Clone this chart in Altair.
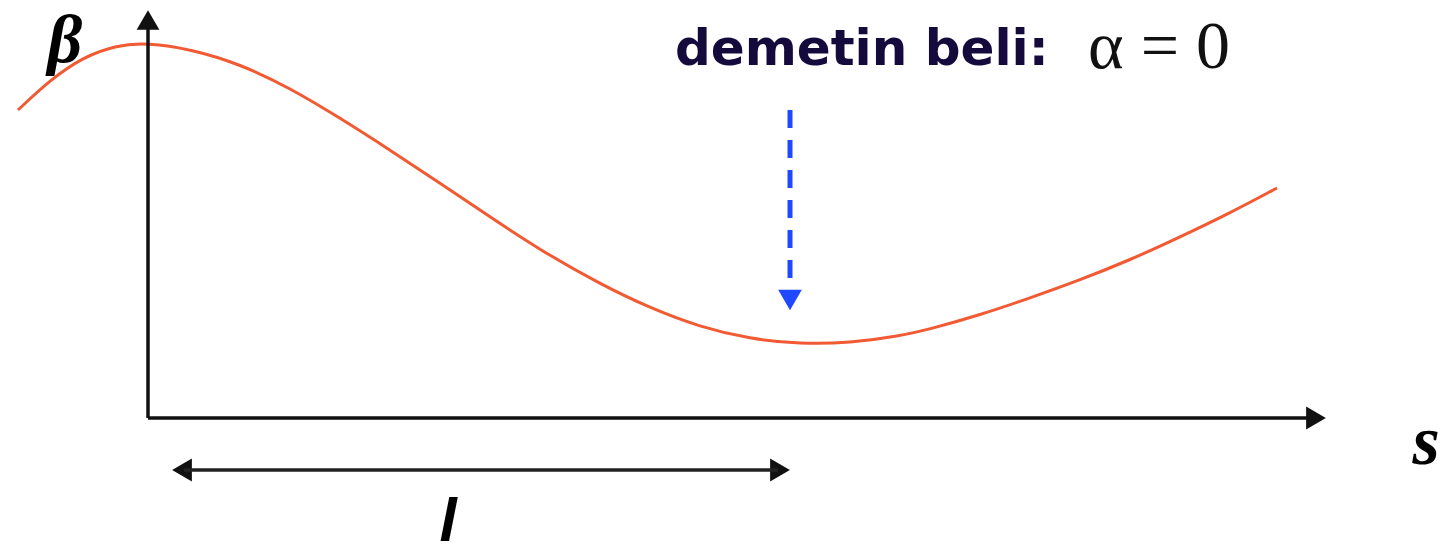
import altair as alt
import pandas as pd

# Beta function along the beam line (s measured from the vertical axis)
curve_s = [-130, -98, -65, -31, -1, 42, 92, 142, 192, 242, 292, 342, 392, 452,
           502, 552, 602, 652, 702, 752, 782, 832, 882, 932, 982, 1032, 1082, 1129]
curve_beta = [308, 338, 361, 373, 375, 369, 354, 330, 300, 268, 235, 201, 168, 134,
              110, 91, 79, 74, 75, 82, 89, 103, 120, 138, 158, 181, 205, 230]

# Axis extents
s_axis_end = 1160
beta_axis_end = 390

# Distance l to the waist, and the waist position
waist_s = 642
l_start = 24
l_row = -52

X_DOMAIN = [-148, 1298]
Y_DOMAIN = [-136, 418]

xs = alt.Scale(domain=X_DOMAIN, nice=False, zero=False)
ys = alt.Scale(domain=Y_DOMAIN, nice=False, zero=False)


def X(field="s"):
    return alt.X(field, type="quantitative", scale=xs, axis=None)


def Y(field="b"):
    return alt.Y(field, type="quantitative", scale=ys, axis=None)


curve = alt.Chart(pd.DataFrame({"s": curve_s, "b": curve_beta})).mark_line(
    color="#f15a32", strokeWidth=3, interpolate="basis"
).encode(x=X(), y=Y(), order="s:Q")

# Coordinate axes
axes_df = pd.DataFrame({
    "s": [0, 0], "s2": [s_axis_end, 0],
    "b": [0, 0], "b2": [0, beta_axis_end],
})
axes = alt.Chart(axes_df).mark_rule(color="#111111", strokeWidth=3.5).encode(
    x=X(), x2="s2", y=Y(), y2="b2"
)

heads_df = pd.DataFrame({
    "s": [s_axis_end + 8, 0, l_start + 10, waist_s - 10],
    "b": [0, beta_axis_end + 8, l_row, l_row],
    "shape": ["triangle-right", "triangle-up", "triangle-left", "triangle-right"],
})
heads = alt.Chart(heads_df).mark_point(
    filled=True, color="#111111", opacity=1, size=520, strokeWidth=0
).encode(x=X(), y=Y(), shape=alt.Shape("shape:N", scale=None, legend=None))

# Double arrow for l
l_df = pd.DataFrame({"s": [l_start + 12], "s2": [waist_s - 12], "b": [l_row]})
l_line = alt.Chart(l_df).mark_rule(color="#222222", strokeWidth=3.5).encode(
    x=X(), x2="s2", y=Y()
)

# Dashed arrow pointing at the waist
waist_df = pd.DataFrame({"s": [waist_s], "b": [308], "b2": [130]})
waist_line = alt.Chart(waist_df).mark_rule(
    color="#1f48ff", strokeWidth=5, strokeDash=[18, 12]
).encode(x=X(), y=Y(), y2="b2")
waist_head = alt.Chart(pd.DataFrame({"s": [waist_s], "b": [118]})).mark_point(
    filled=True, color="#1f48ff", opacity=1, size=560, shape="triangle-down", strokeWidth=0
).encode(x=X(), y=Y())

# Labels
serif_df = pd.DataFrame({
    "s": [-83, 1278],
    "b": [356, -46],
    "t": ["β", "s"],
    "size": [68, 70],
})
serif = alt.Chart(serif_df).mark_text(
    font="Liberation Serif", fontStyle="italic", fontWeight="bold",
    color="#000000", align="center", baseline="alphabetic"
).encode(x=X(), y=Y(), text="t:N", size=alt.Size("size:Q", scale=None, legend=None))

l_label = alt.Chart(pd.DataFrame({"s": [300], "b": [-123], "t": ["l"]})).mark_text(
    font="Liberation Sans", fontSize=62, fontStyle="italic", fontWeight="bold",
    color="#000000", align="center", baseline="alphabetic"
).encode(x=X(), y=Y(), text="t:N")

title = alt.Chart(pd.DataFrame({"s": [527], "b": [353], "t": ["demetin beli:"]})).mark_text(
    font="DejaVu Sans", fontSize=50, fontWeight="bold", color="#150a3c",
    align="left", baseline="alphabetic"
).encode(x=X(), y=Y(), text="t:N")

alpha = alt.Chart(pd.DataFrame({"s": [940], "b": [350], "t": ["α = 0"]})).mark_text(
    font="Liberation Serif", fontSize=68, color="#111111",
    align="left", baseline="alphabetic"
).encode(x=X(), y=Y(), text="t:N")

chart = alt.layer(
    curve, axes, heads, l_line, waist_line, waist_head, serif, l_label, title, alpha
).properties(
    width=1446, height=554, padding=0, autosize=alt.AutoSizeParams(type="none"),
    background="#ffffff",
).configure_view(stroke=None)

chart.save("out.html", embed_options={"renderer": "svg", "actions": False})
